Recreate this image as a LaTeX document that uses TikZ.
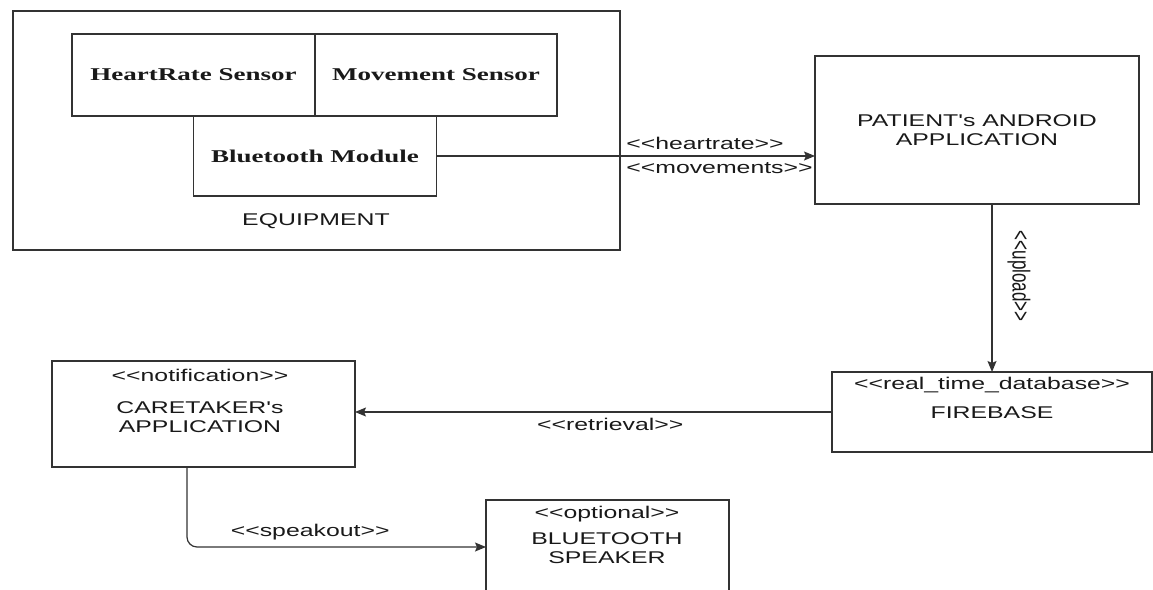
\documentclass[tikz,border=0pt]{standalone}
\usepackage{graphicx}
\usepackage{fontspec}
\newfontfamily\partfont{Liberation Serif}[FakeStretch=1.5]
\newfontfamily\lblsans{Liberation Sans}[FakeStretch=1.46]
\newfontfamily\plainsans{Liberation Sans}
\usetikzlibrary{arrows.meta,positioning}

\begin{document}
\begin{tikzpicture}[x=1pt,y=-1pt,
		box/.style={draw=black!80,line width=1.3pt,inner sep=0pt,outer sep=0pt},
		txt/.style={font=\lblsans\fontsize{17}{19}\selectfont,text=black!90,align=center,inner sep=0pt},
		part/.style={box,font=\partfont\bfseries\fontsize{18}{20}\selectfont,text=black!90},
		lbl/.style={txt,inner xsep=0pt,inner ysep=6pt},
		flow/.style={line width=1.2pt,draw=black!80,-{Stealth[length=11pt,width=9pt,inset=2pt]}}]
	\useasboundingbox (0,0) rectangle (1153,589);
	\node[box,minimum width=607pt,minimum height=239pt] (equip) at (316.5,130.5) {};
	\node[part,minimum width=243pt,minimum height=82pt] (hrs) at (193.5,75) {HeartRate Sensor};
	\node[part,minimum width=242pt,minimum height=82pt,right=0pt of hrs] (mvs) {Movement Sensor};
	\node[part,minimum width=243pt,minimum height=80pt,below=0pt of hrs.south east] (btm) {Bluetooth Module};
	\node[txt] (equiplbl) at (316,221) {EQUIPMENT};
	\node[box,txt,minimum width=324pt,minimum height=148pt] (patient) at (977,130) {PATIENT's ANDROID\\APPLICATION};
	\node[box,minimum width=320pt,minimum height=80pt] (firebase) at (992,412) {};
	\node[txt] (fbtag) at (992,385) {<<real\_time\_database>>};
	\node[txt] (fbname) at (992,413) {FIREBASE};
	\node[box,minimum width=303pt,minimum height=106pt] (caretaker) at (203.5,414) {};
	\node[txt] (notetag) at (200,375) {<<notification>>};
	\node[txt] (caretext) at (200,417) {CARETAKER's\\APPLICATION};
	\node[box,minimum width=243pt,minimum height=94pt] (speaker) at (607.5,547) {};
	\node[txt] (opttag) at (607,514) {<<optional>>};
	\node[txt] (spktext) at (607,548) {BLUETOOTH\\SPEAKER};
	\coordinate (bend) at (187,547);
	\draw[flow] (btm.east) -- (btm.east -| patient.west)
		node[lbl,pos=0.5,anchor=south west] {<<heartrate>>}
		node[lbl,pos=0.5,anchor=north west] {<<movements>>};
	\draw[flow] (patient.south -| firebase.north) -- (firebase.north)
		node[pos=0.43,anchor=south,rotate=-90,inner xsep=0pt,inner ysep=15pt,text=black!90,
			font=\plainsans\fontsize{17}{19}\selectfont] {\scalebox{1}[1.45]{<<upload>>}};
	\draw[flow] (firebase.west) -- (firebase.west -| caretaker.east)
		node[lbl,pos=0.465,anchor=north] {<<retrieval>>};
	\draw[flow,rounded corners=10pt] (caretaker.south -| bend) |- (speaker.west)
		node[lbl,pos=0.706,anchor=south] {<<speakout>>};
\end{tikzpicture}
\end{document}
